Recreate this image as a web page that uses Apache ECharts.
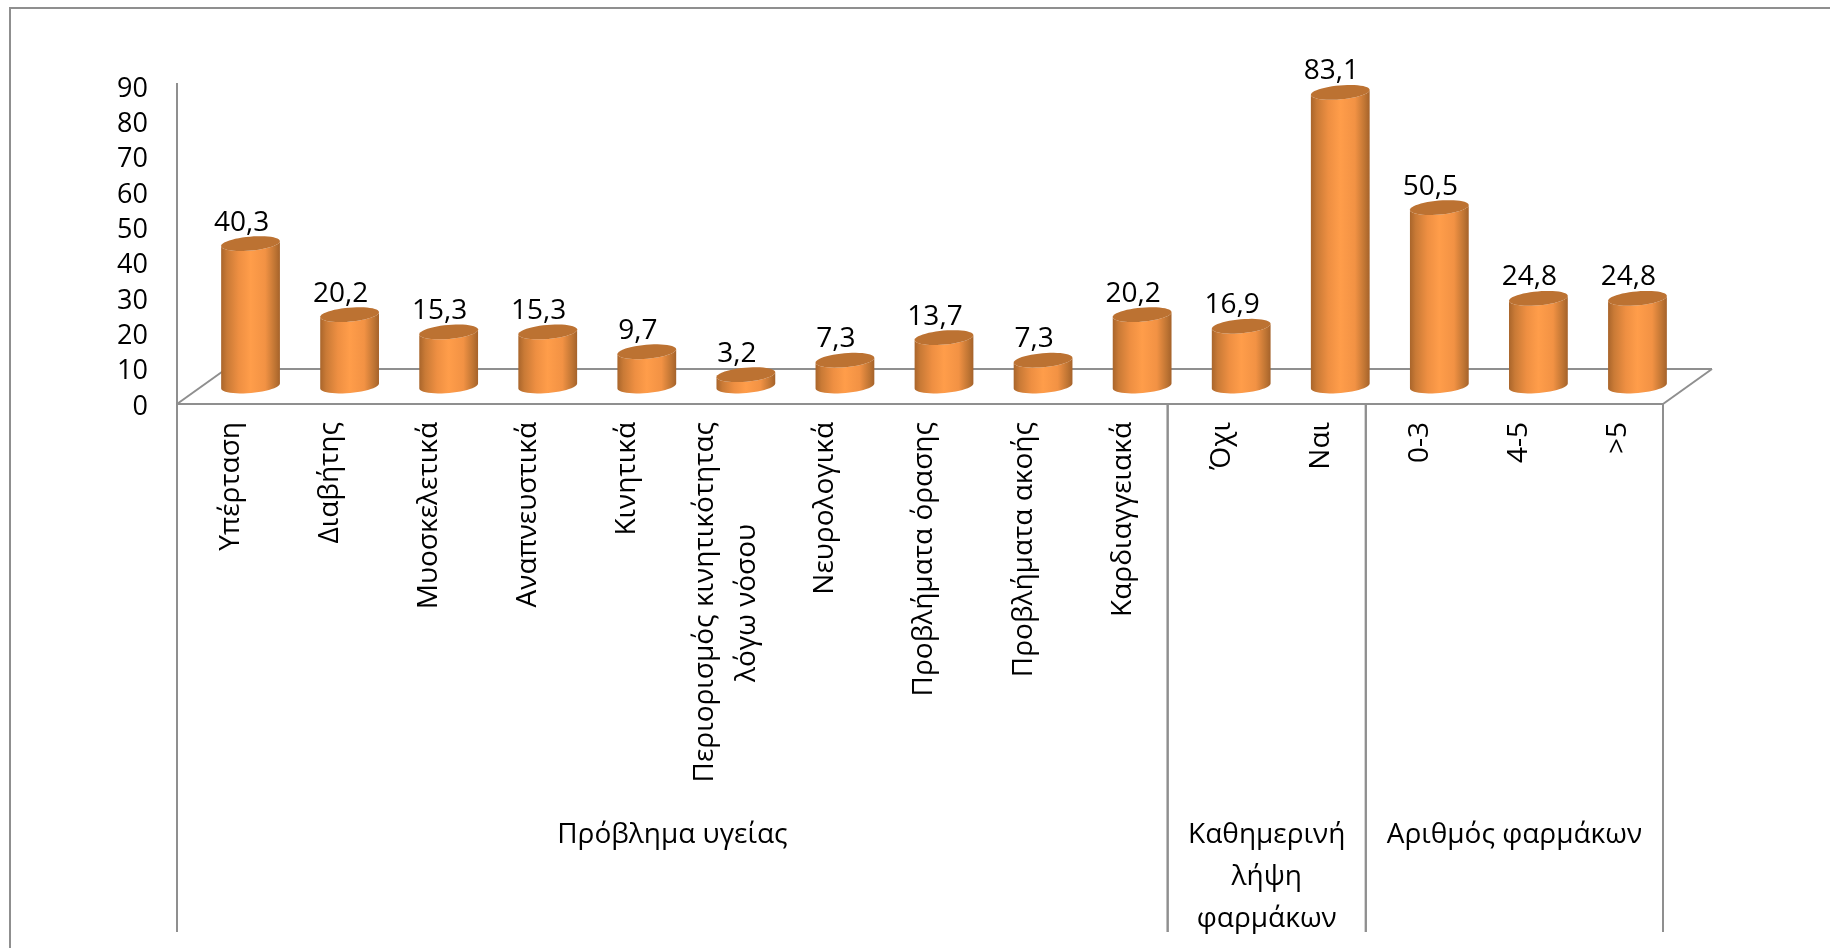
<!DOCTYPE html>
<html lang="el">
<head>
<meta charset="utf-8">
<title>Προβλήματα υγείας και λήψη φαρμάκων</title>
<script src="https://cdn.jsdelivr.net/npm/echarts@6/dist/echarts.min.js"></script>
<style>html,body{margin:0;padding:0;background:#fff}#chart{width:1830px;height:948px}</style>
</head>
<body>
<div id="chart"></div>
<script>
const categories = ['Υπέρταση','Διαβήτης','Μυοσκελετικά','Αναπνευστικά','Κινητικά',
  'Περιορισμός κινητικότητας\nλόγω νόσου','Νευρολογικά','Προβλήματα όρασης','Προβλήματα ακοής',
  'Καρδιαγγειακά','Όχι','Ναι','0-3','4-5','>5'];
const values = [40.3,20.2,15.3,15.3,9.7,3.2,7.3,13.7,7.3,20.2,16.9,83.1,50.5,24.8,24.8];
const groupNames = ['Πρόβλημα υγείας','Καθημερινή\nλήψη\nφαρμάκων','Αριθμός φαρμάκων'];
const groupFirst = [0,10,12];
const groupLast = [9,11,14];

const FONT = '"Open Sans", sans-serif';
const LABEL_SIZE = 28;
const GRAY = '#8f8f8f';
const DEPTH_X = 49, DEPTH_Y = 35;          // floor depth of the pseudo-3D box
const BAR_DX = 24, BAR_DY = 18;            // cylinders stand mid-way across the floor
const RX = 29.5, RY = 7, TILT = -5 * Math.PI / 180;

// Point on a tilted ellipse, used for cylinder caps and the rounded foot.
function ellipsePoint(cx, cy, t) {
  const ex = RX * Math.cos(t), ey = RY * Math.sin(t);
  return [cx + ex * Math.cos(TILT) - ey * Math.sin(TILT),
          cy + ex * Math.sin(TILT) + ey * Math.cos(TILT)];
}
function arc(cx, cy, from, to, n) {
  const pts = [];
  for (let i = 0; i <= n; i++) pts.push(ellipsePoint(cx, cy, from + (to - from) * i / n));
  return pts;
}

// Rotated axis labels hang from their end, so the shorter line of a wrapped
// label is padded with no-break spaces to sit centred under the longer one.
const measure = document.createElement('canvas').getContext('2d');
measure.font = LABEL_SIZE + 'px ' + FONT;
function categoryLabel(text) {
  const lines = text.split('\n');
  const longest = Math.max(...lines.map(l => measure.measureText(l).width));
  const nbsp = measure.measureText('\u00a0').width;
  return lines.map(l => {
    const pad = Math.round((longest - measure.measureText(l).width) / 2 / nbsp);
    return '{cat|' + l + '\u00a0'.repeat(pad) + '}';
  }).join('\n');
}

function renderCylinder(params, api) {
  const i = api.value(0);
  const top = api.coord([i, api.value(1)]);
  const base = api.coord([i, 0]);
  const cx = top[0] + BAR_DX;
  const yTop = top[1] - BAR_DY, yBase = base[1] - BAR_DY;
  const body = arc(cx, yBase, 0, Math.PI, 24).concat(arc(cx, yTop, Math.PI, 0, 24));
  return {
    type: 'group',
    children: [
      { type: 'polygon', shape: { points: body },
        style: { fill: new echarts.graphic.LinearGradient(0, 0, 1, 0, [
          { offset: 0, color: '#A9652B' }, { offset: 0.1, color: '#C97A36' },
          { offset: 0.3, color: '#EE8F42' }, { offset: 0.5, color: '#FF9D4A' },
          { offset: 0.75, color: '#F29244' }, { offset: 0.92, color: '#BE7433' },
          { offset: 1, color: '#A5622A' }]) } },
      { type: 'polygon', shape: { points: arc(cx, yTop, 0, 2 * Math.PI, 48) },
        style: { fill: '#BC7232' } },
      { type: 'text', style: {
          text: api.value(1).toFixed(1).replace('.', ','),
          x: cx - 9, y: yTop - 21, align: 'center', verticalAlign: 'middle',
          font: '28px ' + FONT, fill: '#000' } }
    ]
  };
}

// Floor outline and left wall edge, anchored to the axis coordinates.
function renderFloor(params, api) {
  const o = api.coord([0, 0]), band = api.size([1, 0])[0];
  const left = o[0] - band / 2, right = left + band * categories.length, y = o[1];
  const top = api.coord([0, 90])[1] - 3;
  const line = (x1, y1, x2, y2) => ({ type: 'line', shape: { x1, y1, x2, y2 },
    style: { stroke: GRAY, lineWidth: 2 } });
  return { type: 'group', children: [
    line(left, top, left, y),
    line(left, y, right, y),
    line(left, y, left + DEPTH_X, y - DEPTH_Y),
    line(left + DEPTH_X, y - DEPTH_Y, right + DEPTH_X, y - DEPTH_Y),
    line(right + DEPTH_X, y - DEPTH_Y, right, y)
  ] };
}

// Group separators and captions below the rotated category labels.
function renderGroup(params, api) {
  const k = params.dataIndex;
  const band = api.size([1, 0])[0];
  const y = api.coord([0, 0])[1];
  const x1 = api.coord([groupFirst[k], 0])[0] - band / 2;
  const x2 = api.coord([groupLast[k], 0])[0] + band / 2;
  const line = x => ({ type: 'line', shape: { x1: x, y1: y, x2: x, y2: 932 },
    style: { stroke: GRAY, lineWidth: 2 } });
  return { type: 'group', children: [
    line(x1), line(x2),
    { type: 'text', style: { text: groupNames[k], x: (x1 + x2) / 2, y: 814,
        align: 'center', verticalAlign: 'top', font: LABEL_SIZE + 'px ' + FONT, lineHeight: 42, fill: '#000' } }
  ] };
}

const chart = echarts.init(document.getElementById('chart'), null, { renderer: 'canvas' });
chart.setOption({
  animation: false,
  backgroundColor: '#fff',
  graphic: [{ type: 'polyline', silent: true, z: 0,
    shape: { points: [[10, 948], [10, 8], [1830, 8]] },
    style: { stroke: GRAY, lineWidth: 2, fill: null } }],
  grid: { left: 177, top: 86, width: 1486, height: 318 },
  xAxis: {
    type: 'category', data: categories,
    axisLine: { show: false }, axisTick: { show: false },
    axisLabel: { interval: 0, rotate: 90, margin: 18, hideOverlap: false, formatter: categoryLabel,
      rich: { cat: { fontFamily: FONT, fontSize: LABEL_SIZE, color: '#000', lineHeight: 42, padding: [9, 0, 0, 0] } } }
  },
  yAxis: {
    type: 'value', min: 0, max: 90, interval: 10,
    splitLine: { show: false }, axisLine: { show: false }, axisTick: { show: false },
    axisLabel: { margin: 29, formatter: v => '{tick|' + v + '}',
      rich: { tick: { fontFamily: FONT, fontSize: 27, color: '#000', padding: [6, 0, 0, 0] } } }
  },
  series: [
    { type: 'custom', renderItem: renderFloor, data: [[0, 0]], z: 1, silent: true, clip: false },
    { type: 'custom', renderItem: renderGroup, data: groupNames.map((n, k) => [groupFirst[k], 0]),
      z: 1, silent: true, clip: false },
    { type: 'custom', renderItem: renderCylinder, data: values.map((v, i) => [i, v]),
      encode: { x: 0, y: 1 }, z: 2, silent: true, clip: false }
  ]
});
</script>
</body>
</html>
